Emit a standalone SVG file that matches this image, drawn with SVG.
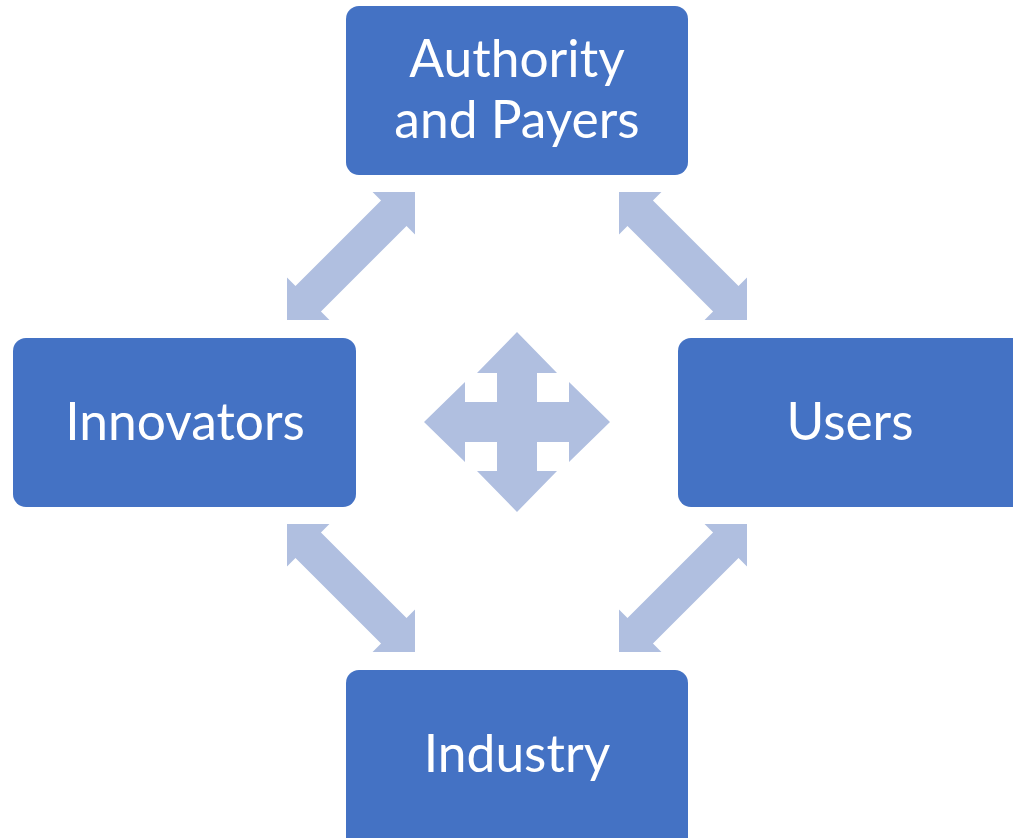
<svg xmlns="http://www.w3.org/2000/svg" width="1013" height="838" viewBox="0 0 1013 838">
<style>
.box{fill:#4472C4;}
.lbl{fill:#FFFFFF;font-family:Lato,"Open Sans","Liberation Sans",sans-serif;font-size:51.5px;text-anchor:middle;}
.arr{fill:#B0BFE0;}
</style>
<defs>
<polygon id="dbl" points="-90.5,0 -60.5,-30 -60.5,-18 60.5,-18 60.5,-30 90.5,0 60.5,30 60.5,18 -60.5,18 -60.5,30"/>
</defs>
<rect width="1013" height="838" fill="#FFFFFF"/>
<g id="connectors">
<use href="#dbl" class="arr" transform="translate(351,256) rotate(-45)"/>
<use href="#dbl" class="arr" transform="translate(683,256) rotate(45)"/>
<use href="#dbl" class="arr" transform="translate(351,588) rotate(45)"/>
<use href="#dbl" class="arr" transform="translate(683,588) rotate(-45)"/>
<polygon class="arr" points="517,332 557,373 537,373 537,402 569,402 569,382 610,422 569,462 569,442 537,442 537,471 557,471 517,512 477,471 497,471 497,442 465,442 465,462 424,422 465,382 465,402 497,402 497,373 477,373"/>
</g>
<g id="authority">
<rect class="box" x="346" y="6" width="342" height="169" rx="13"/>
<text class="lbl" x="517" y="77">Authority</text>
<text class="lbl" x="517" y="138">and Payers</text>
</g>
<g id="innovators">
<rect class="box" x="13" y="338" width="343" height="169" rx="13"/>
<text class="lbl" x="185" y="440">Innovators</text>
</g>
<g id="users">
<rect class="box" x="678" y="338" width="350" height="169" rx="13"/>
<text class="lbl" x="850" y="440">Users</text>
</g>
<g id="industry">
<rect class="box" x="346" y="670" width="342" height="185" rx="13"/>
<text class="lbl" x="517" y="772">Industry</text>
</g>
</svg>
